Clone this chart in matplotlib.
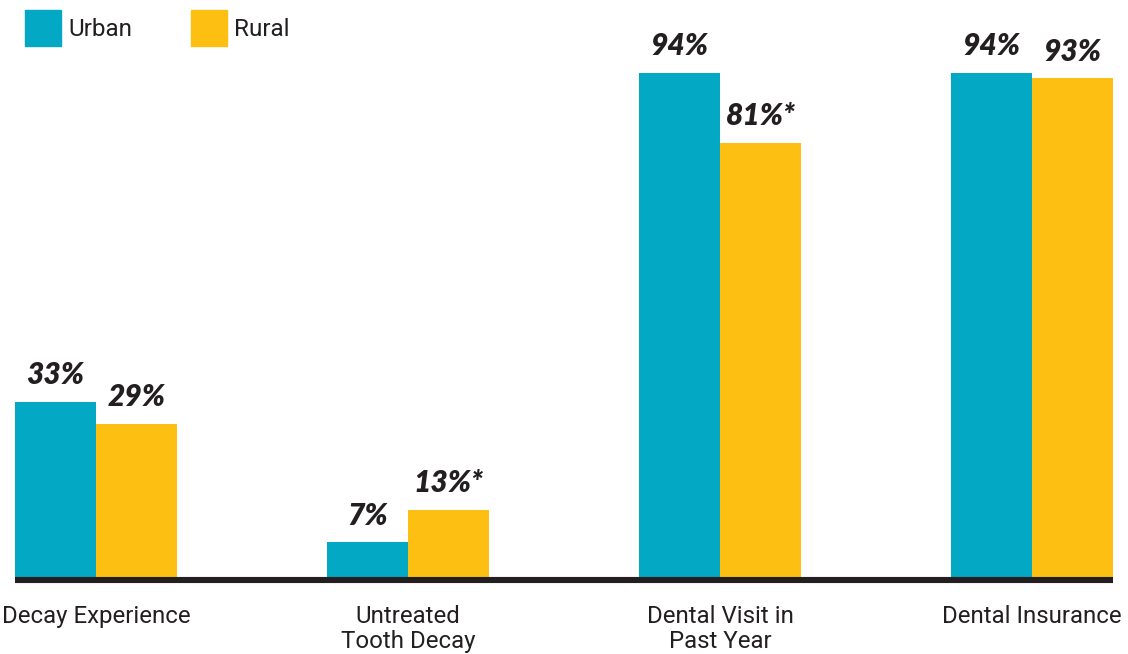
import matplotlib
matplotlib.use("Agg")
import numpy as np
from matplotlib import pyplot as plt
from matplotlib.patches import Patch

# 城乡儿童口腔健康对比（分组柱状图）

categories = ["Decay Experience", "Untreated\nTooth Decay", "Dental Visit in\nPast Year", "Dental Insurance"]
urban = [33, 7, 94, 94]
rural = [29, 13, 81, 93]
urban_labels = ["33%", "7%", "94%", "94%"]
rural_labels = ["29%", "13%*", "81%*", "93%"]

teal = "#03A8C5"
yellow = "#FCBF12"
ink = "#231F20"

plt.rcParams["font.family"] = ["Roboto", "DejaVu Sans"]

W, H = 1128, 654
fig = plt.figure(figsize=(W / 100, H / 100), dpi=100)
ax = fig.add_axes([15 / W, 74 / H, (1113 - 15) / W, 580 / H])

bar_w = 0.26
x = np.arange(len(categories))

ax.bar(x - bar_w / 2, urban, width=bar_w, color=teal, label="Urban")
ax.bar(x + bar_w / 2, rural, width=bar_w, color=yellow, label="Rural")

# 数值标签：粗斜体
label_font = dict(family=["Lato", "DejaVu Sans"], fontsize=21.5, fontweight="heavy",
                  fontstyle="italic", color=ink, ha="center", va="bottom")
for xi, v, s in zip(x - bar_w / 2, urban, urban_labels):
    ax.annotate(s, (xi, v), xytext=(0, 9), textcoords="offset points", **label_font)
for xi, v, s in zip(x + bar_w / 2, rural, rural_labels):
    ax.annotate(s, (xi, v), xytext=(0, 9), textcoords="offset points", **label_font)

# 底部粗黑线
ax.axhline(0, color=ink, lw=4.4, clip_on=False, zorder=5, solid_capstyle="butt")

ax.set_xlim(-bar_w, len(categories) - 1 + bar_w)
ax.set_ylim(0, 107.5)
ax.set_xticks(x)
ax.set_xticklabels(categories, fontsize=17.3, color=ink, linespacing=1.1)
ax.tick_params(axis="x", length=0, pad=18)
ax.set_yticks([])
for side in ["top", "right", "left", "bottom"]:
    ax.spines[side].set_visible(False)

handles = [Patch(color=teal, label="Urban"), Patch(color=yellow, label="Rural")]
fig.legend(handles=handles, loc="upper left", bbox_to_anchor=(25 / W, 1 - 10 / H),
           ncol=2, frameon=False, fontsize=17.5, handlelength=1.49, handleheight=1.91,
           handletextpad=0.29, columnspacing=2.4, borderpad=0, borderaxespad=0,
           labelcolor=ink)

fig.savefig("out.png", dpi=100)
